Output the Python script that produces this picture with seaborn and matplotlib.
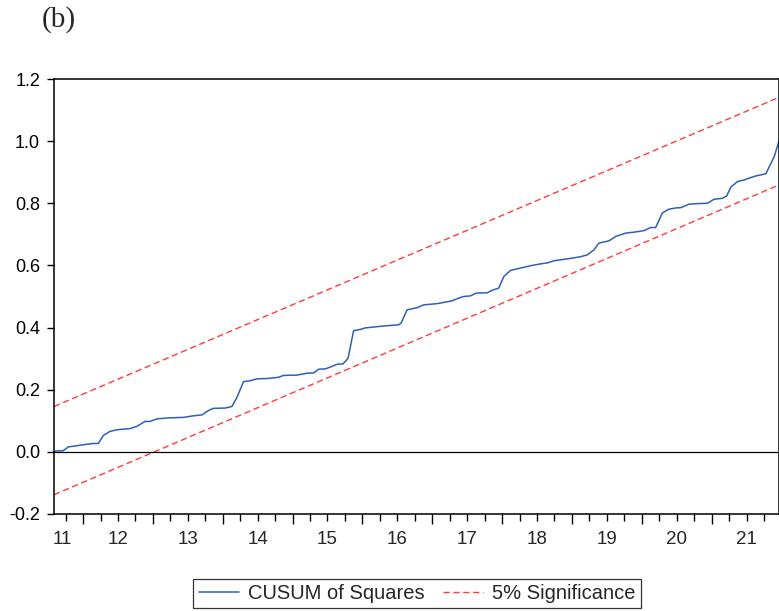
import numpy as np
import pandas as pd
import seaborn as sns
import matplotlib.pyplot as plt

# CUSUM of squares (x in years, 11 = 2011)
years = [11.584, 11.632, 11.718, 11.789, 11.861, 12.004, 12.148, 12.219, 12.291, 12.387,
         12.483, 12.674, 12.770, 12.889, 12.961, 13.056, 13.200, 13.438, 13.581, 13.702,
         13.796, 13.868, 14.035, 14.131, 14.203, 14.298, 14.394, 14.490, 14.633, 14.799,
         14.871, 15.063, 15.206, 15.301, 15.373, 15.469, 15.565, 15.636, 15.722, 15.794,
         15.874, 15.970, 16.042, 16.304, 16.519, 16.553, 16.639, 16.783, 16.877, 17.069,
         17.284, 17.356, 17.450, 17.546, 17.632, 17.785, 17.871, 17.952, 18.024, 18.120,
         18.216, 18.311, 18.407, 18.550, 18.646, 18.741, 18.933, 19.124, 19.220, 19.315,
         19.387, 19.530, 19.626, 19.769, 19.888, 20.032, 20.128, 20.199, 20.295, 20.390,
         20.486, 20.558, 20.677, 20.797, 20.940, 21.035, 21.156, 21.217, 21.275, 21.371,
         21.466, 21.538, 21.634, 21.777, 21.896, 21.965]
cusumsq = [0.002, 0.003, 0.004, 0.016, 0.018, 0.023, 0.027, 0.027, 0.053, 0.066,
           0.071, 0.075, 0.082, 0.098, 0.098, 0.106, 0.109, 0.111, 0.116, 0.119,
           0.133, 0.140, 0.141, 0.146, 0.175, 0.226, 0.229, 0.235, 0.236, 0.240,
           0.246, 0.247, 0.253, 0.254, 0.266, 0.267, 0.275, 0.282, 0.283, 0.301,
           0.390, 0.394, 0.399, 0.405, 0.409, 0.414, 0.457, 0.464, 0.473, 0.477,
           0.486, 0.493, 0.500, 0.502, 0.511, 0.512, 0.521, 0.527, 0.564, 0.584,
           0.589, 0.594, 0.599, 0.605, 0.608, 0.615, 0.621, 0.628, 0.634, 0.650,
           0.672, 0.679, 0.693, 0.704, 0.707, 0.712, 0.722, 0.722, 0.769, 0.781,
           0.785, 0.786, 0.797, 0.799, 0.800, 0.813, 0.816, 0.824, 0.852, 0.870,
           0.875, 0.881, 0.888, 0.895, 0.950, 1.000]

# 5% significance bands (straight lines, end points)
band_x = [11.584, 21.965]
upper = [0.146, 1.141]
lower = [-0.138, 0.859]

year_labels = ['11', '12', '13', '14', '15', '16', '17', '18', '19', '20', '21']
label_pos = [11.70, 12.5, 13.5, 14.5, 15.5, 16.5, 17.5, 18.5, 19.5, 20.5, 21.5]
y_ticks = [-0.2, 0.0, 0.2, 0.4, 0.6, 0.8, 1.0, 1.2]

df = pd.DataFrame({'year': years, 'value': cusumsq})
bands = pd.DataFrame({'year': band_x * 2, 'value': upper + lower,
                      'band': ['upper'] * 2 + ['lower'] * 2})

sns.set_style('white')
plt.rcParams['font.family'] = ['Liberation Sans', 'DejaVu Sans']

fig = plt.figure(figsize=(7.79, 6.11), dpi=100)
ax = fig.add_axes([54 / 779, 1 - 514 / 611, 1 - 54 / 779, 435 / 611])

blue = '#2f5fb8'
red = '#ff3b3b'
sns.lineplot(data=df, x='year', y='value', ax=ax, color=blue, lw=1.1,
             label='CUSUM of Squares')
sns.lineplot(data=bands, x='year', y='value', units='band', estimator=None, ax=ax,
             color=red, lw=1.0, linestyle=(0, (4.5, 2.6)), label='5% Significance')
ax.axhline(0, color='black', lw=0.9)

ax.set_xlim(band_x[0], band_x[1])
ax.set_ylim(-0.2, 1.2)
ax.set_yticks(y_ticks)
ax.set_yticklabels([f'{v:.1f}' for v in y_ticks])
ax.set_xticks(range(12, 22))
ax.set_xticklabels([])
ax.set_xticks([q / 4 for q in range(47, 88) if q % 4], minor=True)
ax.tick_params(axis='x', which='major', direction='out', length=7.2, width=1,
               colors='black', bottom=True)
ax.tick_params(axis='x', which='minor', direction='out', length=4.8, width=1,
               colors='black', bottom=True)
ax.tick_params(axis='y', direction='out', length=5, width=1, left=True,
               labelsize=13, pad=5, colors='black')
ax.set_xlabel('')
ax.set_ylabel('')

sec = ax.secondary_xaxis('bottom')
sec.set_xticks(label_pos, year_labels)
sec.tick_params(length=0, pad=12, labelsize=13.5)
sec.spines['bottom'].set_visible(False)

for s in ax.spines.values():
    s.set_color('black')
    s.set_linewidth(1.1)

ax.get_legend().remove()
h, l = ax.get_legend_handles_labels()
leg = fig.legend(h[:2], l[:2], loc='center', bbox_to_anchor=(417 / 779, 1 - 593.5 / 611),
                 ncol=2, fontsize=14.5, frameon=True, fancybox=False, edgecolor='black',
                 handlelength=2.0, handletextpad=0.45, columnspacing=0.9,
                 borderpad=0.25, borderaxespad=0)
leg.get_frame().set_linewidth(0.9)

fig.text(42 / 779, 1 - 20 / 611, '(b)', fontsize=21, va='center', ha='left',
         family=['Liberation Serif', 'DejaVu Serif'])

fig.savefig('out.png', dpi=100)
